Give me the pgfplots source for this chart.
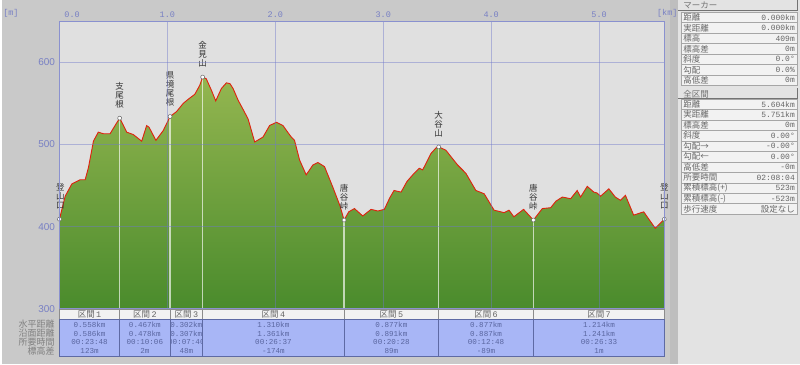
\documentclass[border=0pt]{standalone}
\usepackage{fontspec}
\setmainfont{Noto Sans CJK JP}
\newfontfamily\monof{Liberation Mono}
\newfontfamily\sansf{Liberation Sans}
\usepackage{pgfplots}
\pgfplotsset{compat=1.18}
\usepackage{pgfplotstable}
\definecolor{bgcol}{HTML}{C9C9C9}
\definecolor{stripcol}{HTML}{BEBEBE}
\definecolor{panelbg}{HTML}{E3E3E3}
\definecolor{plotbg}{HTML}{E0E0E0}
\definecolor{gridcol}{HTML}{6F78CC}
\definecolor{framecol}{HTML}{8A91CF}
\definecolor{tickcol}{HTML}{7880C4}
\definecolor{fillTop}{HTML}{94B650}
\definecolor{fillBot}{HTML}{4A8B2C}
\definecolor{linecol}{HTML}{E0200E}
\definecolor{tblblue}{HTML}{A8B6F6}
\definecolor{tblsep}{HTML}{5E6AA4}
\definecolor{tbltext}{HTML}{5A66A0}
\definecolor{hdrbg}{HTML}{F2F2F2}
\tikzset{wlabel/.style={anchor=south, yshift=10pt, align=center, inner sep=0pt,
     font=\fontsize{8.5}{9}\selectfont, text=black!80}}

\pgfplotstableread{
km elev
0 409
0.053 437
0.115 452
0.19 457
0.238 457
0.269 472
0.315 504
0.36 515
0.408 513
0.469 513
0.52 524
0.558 532
0.59 524
0.623 515
0.685 512
0.762 504
0.808 523
0.83 521
0.894 505
0.962 517
1.025 534
1.085 540
1.147 550
1.193 555
1.254 561
1.30 572
1.327 582
1.36 580
1.408 566
1.448 553
1.50 568
1.547 575
1.58 574
1.609 568
1.655 554
1.70 543
1.748 531
1.809 503
1.886 509
1.947 523
2.009 527
2.071 523
2.12 514
2.148 509
2.178 505
2.225 481
2.286 463
2.348 475
2.395 478
2.456 473
2.533 448
2.60 425
2.637 408
2.68 418
2.733 422
2.81 413
2.887 421
2.95 419
3.01 421
3.06 435
3.10 444
3.165 442
3.22 455
3.28 464
3.334 471
3.365 469
3.442 489
3.49 496
3.514 497
3.58 493
3.689 475
3.765 465
3.858 444
3.935 440
4.027 420
4.12 417
4.165 420
4.21 412
4.30 421
4.391 408
4.474 422
4.551 423
4.60 431
4.659 436
4.736 434
4.797 444
4.828 436
4.89 449
4.951 442
4.98 441
5.013 437
5.09 446
5.15 436
5.198 432
5.244 438
5.32 414
5.413 418
5.52 398
5.604 409
}\profile

\pgfplotstableread{
km elev
0 409
0.558 532
1.025 534
1.327 582
2.637 408
3.514 497
4.391 408
5.604 409
}\wpts

\begin{document}
\begin{tikzpicture}[x=1pt,y=1pt]
\fill[bgcol] (0,0) rectangle (670,365);
\fill[stripcol] (670,0) rectangle (678,365);
\fill[panelbg] (678,0) rectangle (800,365);
\begin{axis}[
  at={(57.6pt,55.7pt)}, anchor=south west,
  width=606.7pt, height=288.3pt, scale only axis,
  xmin=0, xmax=5.607, ymin=300, ymax=650,
  axis background/.style={fill=plotbg},
  axis on top, clip mode=individual,
  axis line style={framecol, line width=0.8pt},
  grid=major, major grid style={gridcol, opacity=0.45, line width=0.7pt},
  major tick length=0pt,
  xtick={0,1,2,3,4,5},
  xticklabels={\makebox[0pt][l]{\hspace{5pt}0.0},1.0,2.0,3.0,4.0,5.0},
  xticklabel pos=right,
  xticklabel style={font=\monof\fontsize{8.5}{9}\selectfont, text=tickcol, yshift=0.5pt},
  ytick={300,400,500,600},
  yticklabels={300,400,500,600},
  yticklabel style={font=\sansf\fontsize{10}{11}\selectfont, text=tickcol, xshift=-1pt},
]
\addplot[draw=none, top color=fillTop, bottom color=fillBot] table[x=km,y=elev] {\profile}
   -- (axis cs:5.604,300) -- (axis cs:0,300) -- cycle;
\addplot[ycomb, draw=white, opacity=0.65, line width=1.3pt] table[x=km,y=elev] {\wpts};
\addplot[draw=linecol, line width=0.9pt] table[x=km,y=elev] {\profile};
\addplot[only marks, mark=*, mark size=2pt, mark options={fill=white, draw=black!60, line width=0.5pt}] table[x=km,y=elev] {\wpts};
\node[wlabel, xshift=1pt] at (axis cs:0,409) {登\\山\\口};
\node[wlabel] at (axis cs:0.558,532) {支\\尾\\根};
\node[wlabel] at (axis cs:1.025,534) {県\\境\\尾\\根};
\node[wlabel] at (axis cs:1.327,582) {金\\見\\山};
\node[wlabel] at (axis cs:2.637,408) {唐\\谷\\峠};
\node[wlabel] at (axis cs:3.514,497) {大\\谷\\山};
\node[wlabel] at (axis cs:4.391,408) {唐\\谷\\峠};
\node[wlabel] at (axis cs:5.604,409) {登\\山\\口};
\end{axis}
% axis unit labels
\node[font=\monof\fontsize{8.5}{9}\selectfont, text=tickcol] at (9,352) {[m]};
\node[font=\monof\fontsize{8.5}{9}\selectfont, text=tickcol] at (667,352) {[km]};
% bottom table
\foreach \a/\b/\n/\r/\s/\t/\u in {57.6/118/1/0.558km/0.586km/00:23:48/123m,
   118/168.5/2/0.467km/0.478km/00:10:06/2m,
   168.5/201.2/3/0.302km/0.307km/00:07:40/48m,
   201.2/343/4/1.310km/1.361km/00:26:37/-174m,
   343/437.8/5/0.877km/0.891km/00:20:28/89m,
   437.8/532.7/6/0.877km/0.887km/00:12:48/-89m,
   532.7/664.3/7/1.214km/1.241km/00:26:33/1m}{
  \fill[hdrbg] (\a,45) rectangle (\b,55);
  \draw[black!45, line width=0.6pt] (\a,45) rectangle (\b,55);
  \node[font=\fontsize{8.5}{9}\selectfont, text=black!60, inner sep=0pt] at ({(\a+\b)/2},50) {区間\,{\monof\n}};
  \fill[tblblue] (\a,8.3) rectangle (\b,45);
  \begin{scope}
    \clip (\a+1,8.3) rectangle (\b-1,45);
    \foreach \yy/\txt in {40/\r,31/\s,22/\t,13/\u}{
      \node[font=\monof\fontsize{7.6}{8}\selectfont, text=tbltext, inner sep=0pt] at ({(\a+\b)/2},\yy) {\txt};
    }
  \end{scope}
  \draw[tblsep, line width=0.6pt] (\a,8.3) rectangle (\b,45);
}
\foreach \yy/\txt in {40/水平距離,31/沿面距離,22/所要時間,13/標高差}{
  \node[anchor=east, font=\fontsize{9}{9}\selectfont, text=black!50, inner sep=0pt] at (53,\yy) {\txt};
}
% right panel
\node[anchor=west, font=\fontsize{8.5}{9}\selectfont, text=black!55, inner sep=0pt] at (683,360) {マーカー};
\draw[black!55, line width=0.5pt] (678,354.5) -- (797,354.5) -- (797,365);
\foreach \k/\lab/\val in {0/距離/0.000km,1/実距離/0.000km,2/標高/409m,3/標高差/0m,4/斜度/0.0°,5/勾配/0.0\%,6/高低差/0m}{
  \fill[white!95!black] (681,{353-10.5*\k}) rectangle (797,{353-10.5*(\k+1)});
  \draw[black!35, line width=0.5pt] (681,{353-10.5*\k}) rectangle (797,{353-10.5*(\k+1)});
  \node[anchor=west, font=\fontsize{8.5}{9}\selectfont, text=black!60, inner sep=0pt] at (683,{353-10.5*(\k+0.5)}) {\lab};
  \node[anchor=east, font=\monof\fontsize{8}{9}\selectfont, text=black!60, inner sep=0pt] at (795,{353-10.5*(\k+0.5)}) {\val};
}
\node[anchor=west, font=\fontsize{8.5}{9}\selectfont, text=black!55, inner sep=0pt] at (683,271) {全区間};
\draw[black!55, line width=0.5pt] (678,266.5) -- (797,266.5) -- (797,277);
\foreach \k/\lab/\val in {0/距離/5.604km,1/実距離/5.751km,2/標高差/0m,3/斜度/0.00°,4/勾配→/-0.00°,5/勾配←/0.00°,6/高低差/-0m,7/所要時間/02:08:04,8/累積標高(+)/523m,9/累積標高(-)/-523m}{
  \fill[white!95!black] (681,{266-10.5*\k}) rectangle (797,{266-10.5*(\k+1)});
  \draw[black!35, line width=0.5pt] (681,{266-10.5*\k}) rectangle (797,{266-10.5*(\k+1)});
  \node[anchor=west, font=\fontsize{8.5}{9}\selectfont, text=black!60, inner sep=0pt] at (683,{266-10.5*(\k+0.5)}) {\lab};
  \node[anchor=east, font=\monof\fontsize{8}{9}\selectfont, text=black!60, inner sep=0pt] at (795,{266-10.5*(\k+0.5)}) {\val};
}
\fill[white!95!black] (681,{266-10.5*10}) rectangle (797,{266-10.5*11});
\draw[black!35, line width=0.5pt] (681,{266-10.5*10}) rectangle (797,{266-10.5*11});
\node[anchor=west, font=\fontsize{8.5}{9}\selectfont, text=black!60, inner sep=0pt] at (683,{266-10.5*10.5}) {歩行速度};
\node[anchor=east, font=\fontsize{8.5}{9}\selectfont, text=black!60, inner sep=0pt] at (795,{266-10.5*10.5}) {設定なし};
\end{tikzpicture}
\end{document}
